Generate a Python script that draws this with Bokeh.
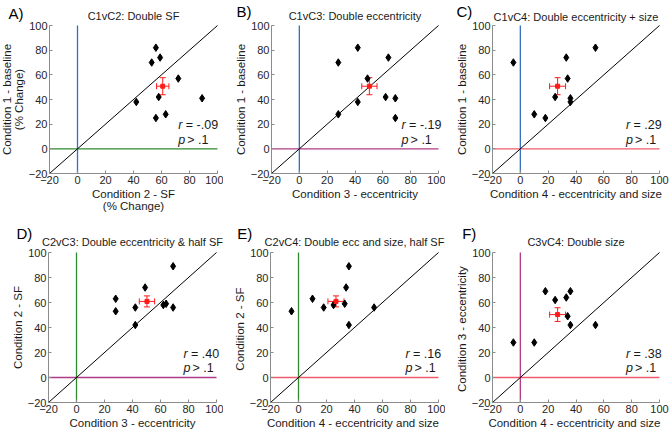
import numpy as np
from bokeh.plotting import figure
from bokeh.models import (Label, Whisker, TeeHead, ColumnDataSource, FixedTicker,
                          LinearAxis, Range1d)
from bokeh.layouts import column, row
from bokeh.embed import file_html
from bokeh.resources import INLINE

FONT = "Liberation Sans"

# ---------------- data: % change per subject (9 subjects) ----------------
cond1_baseline = [82, 74, 70, 57, 42, 41, 38, 28, 25]
cond2_sf = [56, 59, 53, 72, 58, 89, 42, 63, 56]
cond3_ecc = [42, 64, 28, 49, 62, 69, 42, 28, 69]
cond4_ecc_size = [54, 33, -5, 34, 25, 36, 36, 10, 18]

panel_letters = ["A)", "B)", "C)", "D)", "E)", "F)"]
panel_titles = ["C1vC2: Double SF", "C1vC3: Double eccentricity",
                "C1vC4: Double eccentricity + size",
                "C2vC3: Double eccentricity & half SF",
                "C2vC4: Double ecc and size, half SF", "C3vC4: Double size"]
panel_x_cond = [2, 3, 4, 3, 4, 4]
panel_y_cond = [1, 1, 1, 2, 2, 3]
x_labels = ["Condition 2 - SF\n(% Change)", "Condition 3 - eccentricity",
            "Condition 4 - eccentricity and size", "Condition 3 - eccentricity",
            "Condition 4  - eccentricity and size",
            "Condition 4  - eccentricity and size"]
y_labels = ["Condition 1 - baseline\n(% Change)", "Condition 1 - baseline",
            "Condition 1 - baseline", "Condition 2 - SF", "Condition 2  - SF",
            "Condition 3  - eccentricity"]
r_values = ["-.09", "-.19", ".29", ".40", ".16", ".38"]
p_values = ["> .1"] * 6
axis_ticks = [-20, 0, 20, 40, 60, 80, 100]
axis_limits = [-20, 100]
zero_line = [0, 0]

conditions = {1: cond1_baseline, 2: cond2_sf, 3: cond3_ecc, 4: cond4_ecc_size}
cond_colors = {1: "#3370c0", 2: "#2e8b2e", 3: "#b03a86", 4: "#ef5b6b"}
RED = "#ff1a1a"

# ---------------- layout (canvas pixels) ----------------
# canvas W, H and the data square's left, right, top, bottom on the canvas
layouts = [
    (223, 216, 49, 217, 25, 173),
    (222, 216, 48, 215, 25, 173),
    (225, 216, 47, 214, 25, 173),
    (223, 217, 48, 216, 36, 186),
    (222, 217, 47, 215, 36, 186),
    (225, 217, 47, 214, 36, 186),
]
letter_canvas = [(8, 12.5), (13, 10.5), (11, 10.5), (16, 17), (13.7, 17), (16.7, 17)]
title_canvas_y = [15.7, 15.7, 16, 25, 25, 25.7]
stat_text_x = [72, 73.5, 76, 76.5, 76.5, 76]


def make_panel(i):
    W, H, L, R, T, B = layouts[i]
    lo, hi = axis_limits
    sx = (hi - lo) / (R - L)
    sy = (hi - lo) / (B - T)
    x0, x1 = lo - L * sx, hi + (W - R) * sx
    y0, y1 = lo - (H - B) * sy, hi + T * sy

    def cx(px):
        return x0 + px * sx

    def cy(py):
        return y1 - py * sy

    p = figure(width=W, height=H, x_range=Range1d(x0, x1), y_range=Range1d(y0, y1),
               output_backend="svg", toolbar_location=None, min_border=0,
               x_axis_type=None, y_axis_type=None)
    p.outline_line_color = None
    p.grid.visible = False
    p.background_fill_color = "white"
    p.border_fill_color = "white"

    xaxis = LinearAxis(fixed_location=lo, bounds=(lo, hi), axis_label=x_labels[i])
    yaxis = LinearAxis(fixed_location=lo, bounds=(lo, hi), axis_label=y_labels[i])
    for ax in (xaxis, yaxis):
        ax.ticker = FixedTicker(ticks=axis_ticks)
        ax.major_tick_in = 3
        ax.major_tick_out = 0
        ax.minor_tick_line_color = None
        ax.axis_line_color = "#8c8c8c"
        ax.major_tick_line_color = "#8c8c8c"
        ax.major_label_text_font = FONT
        ax.major_label_text_font_size = "11px"
        ax.major_label_text_color = "#262626"
        ax.major_label_standoff = 2
        ax.axis_label_text_font = FONT
        ax.axis_label_text_font_size = "11.5px"
        ax.axis_label_text_font_style = "normal"
        ax.axis_label_text_color = "#1a1a1a"
        ax.axis_label_standoff = 1
        ax.axis_label_text_line_height = 1.0
    p.add_layout(xaxis, "below")
    p.add_layout(yaxis, "left")

    xc, yc = panel_x_cond[i], panel_y_cond[i]
    xs = np.array(conditions[xc], dtype=float)
    ys = np.array(conditions[yc], dtype=float)

    # zero lines coloured by condition, identity line
    p.line(zero_line, axis_limits, line_color=cond_colors[yc], line_width=1.3)
    p.line(axis_limits, zero_line, line_color=cond_colors[xc], line_width=1.3)
    p.line(axis_limits, axis_limits, line_color="black", line_width=1)

    # subjects
    p.scatter(xs, ys, marker="diamond", size=7.5, fill_color="black", line_color="black")

    # mean +/- SEM
    mx, my = xs.mean(), ys.mean()
    ex = xs.std(ddof=1) / np.sqrt(len(xs))
    ey = ys.std(ddof=1) / np.sqrt(len(ys))
    src = ColumnDataSource(dict(mx=[mx], my=[my], xl=[mx - ex], xu=[mx + ex],
                                yl=[my - ey], yu=[my + ey]))
    for base, low, up, dim in (("mx", "yl", "yu", "height"), ("my", "xl", "xu", "width")):
        p.add_layout(Whisker(source=src, base=base, lower=low, upper=up, dimension=dim,
                             line_color=RED, line_width=1,
                             upper_head=TeeHead(size=6, line_color=RED, line_width=1),
                             lower_head=TeeHead(size=6, line_color=RED, line_width=1)))
    p.scatter([mx], [my], marker="square", size=4, fill_color=RED, line_color=RED)

    # statistics text
    tx = stat_text_x[i]
    for yv, sym, rest, off in ((19, "r", "= " + r_values[i], 7.5), (7.5, "p", p_values[i], 9)):
        p.add_layout(Label(x=tx, y=yv, text=sym, text_font=FONT, text_font_size="12.5px",
                           text_font_style="italic", text_baseline="middle",
                           text_align="left", text_color="#1a1a1a"))
        p.add_layout(Label(x=tx, y=yv, x_offset=off, text=rest, text_font=FONT,
                           text_font_size="12.5px", text_baseline="middle",
                           text_align="left", text_color="#1a1a1a"))

    # panel title (centred over the data square)
    p.add_layout(Label(x=cx((L + R) / 2), y=cy(title_canvas_y[i]), text=panel_titles[i],
                       text_font=FONT, text_font_size="11px", text_baseline="middle",
                       text_align="center", text_color="#1a1a1a"))
    # panel letter
    lx, ly = letter_canvas[i]
    p.add_layout(Label(x=cx(lx), y=cy(ly), text=panel_letters[i], text_font=FONT,
                       text_font_size="15px", text_baseline="middle", text_align="left",
                       text_color="black"))
    return p


panels = [make_panel(i) for i in range(6)]
layout = column(row(*panels[:3]), row(*panels[3:]))
open("out.html", "w").write(file_html(layout, INLINE))
